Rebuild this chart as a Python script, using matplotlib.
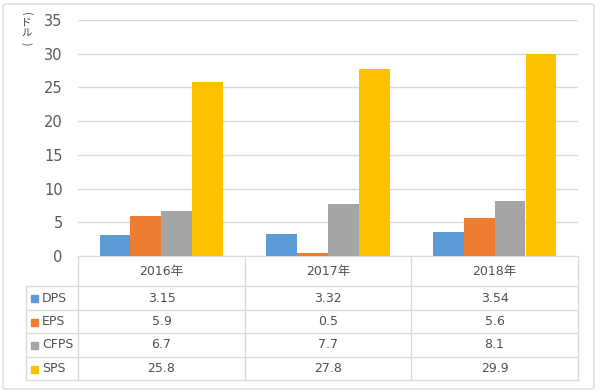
import matplotlib
matplotlib.use("Agg")
import matplotlib.pyplot as plt
from matplotlib.patches import Rectangle, FancyBboxPatch
import numpy as np

plt.rcParams['font.family'] = ['DejaVu Sans', 'Noto Sans CJK JP']

years = ['2016年', '2017年', '2018年']
series = ['DPS', 'EPS', 'CFPS', 'SPS']
dps = [3.15, 3.32, 3.54]
eps = [5.9, 0.5, 5.6]
cfps = [6.7, 7.7, 8.1]
sps = [25.8, 27.8, 29.9]
colors = ['#5B9BD5', '#ED7D31', '#A5A5A5', '#FFC000']
values = [dps, eps, cfps, sps]
ylabel_chars = ['(', 'ド', 'ル', ')']

W, H = 600, 392
fig = plt.figure(figsize=(6, 3.92), dpi=100)

# outer frame
fig.add_artist(FancyBboxPatch((3 / W, 3 / H), 591 / W, 385 / H,
                              boxstyle='round,pad=0,rounding_size=0.005',
                              transform=fig.transFigure, fill=False,
                              edgecolor='#D9D9D9', linewidth=1))

# plot area in pixels
x0, x1 = 78, 578
y_top, y_bot = 20, 256
ax = fig.add_axes([x0 / W, 1 - y_bot / H, (x1 - x0) / W, (y_bot - y_top) / H])

x = np.arange(len(years))
bw = 0.185
for i, (vals, c) in enumerate(zip(values, colors)):
    ax.bar(x + (i - 1.5) * bw, vals, bw, color=c, zorder=3)

ax.set_xlim(-0.5, len(years) - 0.5)
ax.set_ylim(0, 35)
ax.set_yticks(range(0, 36, 5))
ax.set_xticks([])
ax.grid(axis='y', color='#D9D9D9', linewidth=1, zorder=0)
for s in ['top', 'right', 'left']:
    ax.spines[s].set_visible(False)
ax.spines['bottom'].set_color('#D9D9D9')
ax.tick_params(axis='y', length=0, pad=11, labelsize=10.5, labelcolor='#595959')

# y label, written vertically one character at a time
lab_y = [14, 23, 34, 44]
for ch, yy in zip(ylabel_chars, lab_y):
    rot = -90 if ch in '()' else 0
    fig.text(26 / W, 1 - yy / H, ch, ha='center', va='center', rotation=rot,
             fontsize=7.5, color='#404040', family=['Noto Sans CJK JP'])

# data table below the plot
tax = fig.add_axes([0, 0, 1, 1])
tax.set_xlim(0, W)
tax.set_ylim(H, 0)
tax.axis('off')

lc = '#D9D9D9'
tc = '#505050'
col_x = [78, 245, 411, 578]
row_y = [256, 286, 310, 333, 357, 380]
lbl_x = 26

# horizontal lines
for ry in row_y[1:]:
    tax.plot([lbl_x, col_x[-1]], [ry, ry], color=lc, lw=1)
# vertical lines
for cx in col_x:
    tax.plot([cx, cx], [row_y[0], row_y[-1]], color=lc, lw=1)
tax.plot([lbl_x, lbl_x], [row_y[1], row_y[-1]], color=lc, lw=1)

for j, yr in enumerate(years):
    cx = (col_x[j] + col_x[j + 1]) / 2
    tax.text(cx, (row_y[0] + row_y[1]) / 2 + 1, yr, ha='center', va='center',
             fontsize=9, color=tc)

for i, (name, vals, c) in enumerate(zip(series, values, colors)):
    cy = (row_y[i + 1] + row_y[i + 2]) / 2
    tax.add_patch(Rectangle((31, cy - 3), 7, 7, color=c))
    tax.text(42, cy, name, ha='left', va='center', fontsize=9, color=tc)
    for j, v in enumerate(vals):
        cx = (col_x[j] + col_x[j + 1]) / 2
        tax.text(cx, cy, str(v), ha='center', va='center', fontsize=9, color=tc)

fig.savefig('out.png', dpi=100)
